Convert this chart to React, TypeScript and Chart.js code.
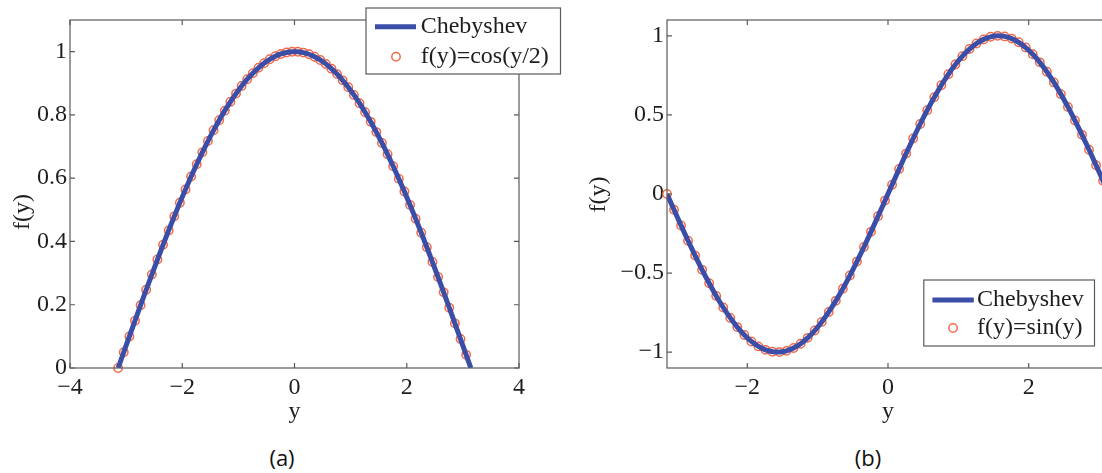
import React, { useEffect, useRef } from "react";
import { Chart, registerables } from "chart.js";

Chart.register(...registerables);

// ---- data ----
const sampleY = [
  -3.142, -3.042, -2.942, -2.842, -2.742, -2.642, -2.542, -2.442, -2.342, -2.242,
  -2.142, -2.042, -1.942, -1.842, -1.742, -1.642, -1.542, -1.442, -1.342, -1.242,
  -1.142, -1.042, -0.942, -0.842, -0.742, -0.642, -0.542, -0.442, -0.342, -0.242,
  -0.142, -0.042, 0.058, 0.158, 0.258, 0.358, 0.458, 0.558, 0.658, 0.758,
  0.858, 0.958, 1.058, 1.158, 1.258, 1.358, 1.458, 1.558, 1.658, 1.758,
  1.858, 1.958, 2.058, 2.158, 2.258, 2.358, 2.458, 2.558, 2.658, 2.758,
  2.858, 2.958, 3.058,
];

const cosValues = [
  0.0, 0.05, 0.0998, 0.1494, 0.1987, 0.2474, 0.2955, 0.3429, 0.3894, 0.435,
  0.4794, 0.5227, 0.5646, 0.6052, 0.6442, 0.6816, 0.7174, 0.7513, 0.7833, 0.8134,
  0.8415, 0.8674, 0.8912, 0.9128, 0.932, 0.949, 0.9636, 0.9757, 0.9854, 0.9927,
  0.9975, 0.9998, 0.9996, 0.9969, 0.9917, 0.984, 0.9738, 0.9613, 0.9463, 0.929,
  0.9093, 0.8874, 0.8632, 0.8369, 0.8085, 0.7781, 0.7457, 0.7115, 0.6755, 0.6378,
  0.5985, 0.5577, 0.5155, 0.472, 0.4274, 0.3817, 0.335, 0.2875, 0.2392, 0.1904,
  0.1411, 0.0915, 0.0416,
];

const sinValues = [
  0.0, -0.0998, -0.1987, -0.2955, -0.3894, -0.4794, -0.5646, -0.6442, -0.7174, -0.7833,
  -0.8415, -0.8912, -0.932, -0.9636, -0.9854, -0.9975, -0.9996, -0.9917, -0.9738, -0.9463,
  -0.9093, -0.8632, -0.8085, -0.7457, -0.6755, -0.5985, -0.5155, -0.4274, -0.335, -0.2392,
  -0.1411, -0.0416, 0.0584, 0.1577, 0.2555, 0.3508, 0.4425, 0.5298, 0.6119, 0.6878,
  0.7568, 0.8183, 0.8716, 0.9162, 0.9516, 0.9775, 0.9937, 0.9999, 0.9962, 0.9825,
  0.9589, 0.9258, 0.8835, 0.8323, 0.7728, 0.7055, 0.6313, 0.5507, 0.4646, 0.3739,
  0.2794, 0.1822, 0.0831,
];

// Chebyshev curve: same abscissae plus the end point at y = pi
const lineY = [...sampleY, 3.142];
const chebCos = [...cosValues, 0.0];
const chebSin = [...sinValues, 0.0];

const ticksAX = [-4, -2, 0, 2, 4];
const ticksAY = [0, 0.2, 0.4, 0.6, 0.8, 1];
const ticksBX = [-2, 0, 2];
const ticksBY = [-1, -0.5, 0, 0.5, 1];

const lineLabel = "Chebyshev";
const markLabelA = "f(y)=cos(y/2)";
const markLabelB = "f(y)=sin(y)";
const xTitle = "y";
const yTitle = "f(y)";

// ---- styles ----
const SERIF = "'Liberation Serif', 'Times New Roman', serif";
const BLUE = "#3a4ea8";
const ORANGE = "#f06a4a";
const FRAME = "#5a5a5a";
const TEXT = "#1e1e1e";
const FS = 24;

const fmt = (v: number) => String(v).replace("-", "\u2212");

function decorPlugin(spec: any) {
  return {
    id: "decor",
    afterDraw(chart: any) {
      const ctx = chart.ctx as CanvasRenderingContext2D;
      const { left, right, top, bottom } = chart.chartArea;
      const xs = chart.scales.x;
      const ys = chart.scales.y;
      ctx.save();
      // frame
      ctx.strokeStyle = FRAME;
      ctx.lineWidth = 1.2;
      ctx.strokeRect(left, top, right - left, bottom - top);
      // inward ticks
      const TL = 5;
      ctx.beginPath();
      spec.xTicks.forEach((v: number) => {
        const px = xs.getPixelForValue(v);
        ctx.moveTo(px, bottom);
        ctx.lineTo(px, bottom - TL);
        ctx.moveTo(px, top);
        ctx.lineTo(px, top + TL);
      });
      spec.yTicks.forEach((v: number) => {
        const py = ys.getPixelForValue(v);
        ctx.moveTo(left, py);
        ctx.lineTo(left + TL, py);
        ctx.moveTo(right, py);
        ctx.lineTo(right - TL, py);
      });
      ctx.stroke();
      // axis titles
      ctx.fillStyle = TEXT;
      ctx.font = `${FS}px ${SERIF}`;
      ctx.textAlign = "center";
      ctx.textBaseline = "alphabetic";
      ctx.fillText(xTitle, (left + right) / 2, spec.xTitleBase);
      ctx.save();
      ctx.translate(spec.yTitleBase, spec.yTitleCenter);
      ctx.rotate(-Math.PI / 2);
      ctx.fillText(yTitle, 0, 0);
      ctx.restore();
      // legend
      const L = spec.legend;
      ctx.fillStyle = "#ffffff";
      ctx.fillRect(L.x, L.y, L.w, L.h);
      ctx.strokeStyle = FRAME;
      ctx.lineWidth = 1.2;
      ctx.strokeRect(L.x, L.y, L.w, L.h);
      ctx.strokeStyle = BLUE;
      ctx.lineWidth = 5;
      ctx.beginPath();
      ctx.moveTo(L.lineX0, L.row1);
      ctx.lineTo(L.lineX1, L.row1);
      ctx.stroke();
      ctx.strokeStyle = ORANGE;
      ctx.lineWidth = 1.5;
      ctx.beginPath();
      ctx.arc(L.markX, L.row2, 4.2, 0, Math.PI * 2);
      ctx.stroke();
      ctx.fillStyle = TEXT;
      ctx.textAlign = "left";
      ctx.textBaseline = "middle";
      ctx.fillText(lineLabel, L.textX, L.row1);
      ctx.fillText(spec.markLabel, L.textX, L.row2);
      ctx.restore();
    },
  };
}

function buildConfig(spec: any): any {
  return {
    type: "scatter",
    data: {
      datasets: [
        {
          type: "line",
          label: lineLabel,
          data: lineY.map((x, i) => ({ x, y: spec.line[i] })),
          borderColor: BLUE,
          backgroundColor: BLUE,
          borderWidth: 5,
          pointRadius: 0,
          fill: false,
          cubicInterpolationMode: "monotone",
          order: 0,
        },
        {
          type: "scatter",
          label: spec.markLabel,
          data: sampleY.map((x, i) => ({ x, y: spec.marks[i] })),
          pointStyle: "circle",
          pointRadius: 4.2,
          borderColor: ORANGE,
          backgroundColor: "rgba(0,0,0,0)",
          borderWidth: 1.5,
          clip: false,
          order: 1,
        },
      ],
    },
    options: {
      responsive: false,
      maintainAspectRatio: false,
      animation: false,
      events: [],
      layout: { padding: { top: spec.padTop, right: spec.padRight, left: 0, bottom: 0 } },
      plugins: { legend: { display: false }, tooltip: { enabled: false }, title: { display: false } },
      scales: {
        x: {
          type: "linear",
          min: spec.xMin,
          max: spec.xMax,
          afterFit: (s: any) => {
            s.height = spec.xAxisH;
          },
          afterBuildTicks: (s: any) => {
            s.ticks = spec.xTicks.map((v: number) => ({ value: v }));
          },
          grid: { display: false, drawTicks: false },
          border: { display: false },
          ticks: {
            font: { family: SERIF, size: FS },
            color: TEXT,
            padding: 5,
            maxRotation: 0,
            autoSkip: false,
            callback: (v: number) => fmt(v),
          },
        },
        y: {
          type: "linear",
          min: spec.yMin,
          max: spec.yMax,
          afterFit: (s: any) => {
            s.width = spec.yAxisW;
          },
          afterBuildTicks: (s: any) => {
            s.ticks = spec.yTicks.map((v: number) => ({ value: v }));
          },
          grid: { display: false, drawTicks: false },
          border: { display: false },
          ticks: {
            font: { family: SERIF, size: FS },
            color: TEXT,
            padding: 3,
            autoSkip: false,
            callback: (v: number) => fmt(v),
          },
        },
      },
    },
    plugins: [decorPlugin(spec)],
  };
}

const specA = {
  xMin: -4,
  xMax: 4,
  yMin: 0,
  yMax: 1.1,
  xTicks: ticksAX,
  yTicks: ticksAY,
  line: chebCos,
  marks: cosValues,
  markLabel: markLabelA,
  yAxisW: 70,
  xAxisH: 72,
  padTop: 20,
  padRight: 45,
  xTitleBase: 418,
  yTitleBase: 29,
  yTitleCenter: 212,
  legend: { x: 366, y: 8, w: 194.5, h: 66, lineX0: 375, lineX1: 416, row1: 26.7, row2: 56.7, markX: 396, textX: 420.7 },
};

const specB = {
  xMin: -Math.PI,
  xMax: Math.PI,
  yMin: -1.1,
  yMax: 1.1,
  xTicks: ticksBX,
  yTicks: ticksBY,
  line: chebSin,
  marks: sinValues,
  markLabel: markLabelB,
  yAxisW: 107,
  xAxisH: 72,
  padTop: 20,
  padRight: 11,
  xTitleBase: 418,
  yTitleBase: 45,
  yTitleCenter: 194.5,
  legend: { x: 363.8, y: 280, w: 170.7, h: 66, lineX0: 372.4, lineX1: 413.8, row1: 300, row2: 328, markX: 393, textX: 417 },
};

function Panel({ left, width, height, spec }: { left: number; width: number; height: number; spec: any }) {
  const ref = useRef<HTMLCanvasElement>(null);
  useEffect(() => {
    const chart = new Chart(ref.current as HTMLCanvasElement, buildConfig(spec));
    return () => chart.destroy();
  }, []);
  return (
    <canvas
      ref={ref}
      width={width}
      height={height}
      style={{ position: "absolute", left, top: 0, width, height }}
    />
  );
}

const captionStyle: React.CSSProperties = {
  position: "absolute",
  top: 457,
  transform: "translate(-50%, -50%)",
  fontFamily: "'Open Sans', 'Noto Sans', sans-serif",
  fontSize: 22,
  lineHeight: 1,
  color: "#111",
  whiteSpace: "nowrap",
};

export default function App() {
  return (
    <div
      style={{
        position: "fixed",
        left: 0,
        top: 0,
        width: 1102,
        height: 473,
        overflow: "hidden",
        background: "#ffffff",
      }}
    >
      <Panel left={560} width={560} height={440} spec={specB} />
      <Panel left={0} width={564} height={440} spec={specA} />
      <div style={{ ...captionStyle, left: 282 }}>(a)</div>
      <div style={{ ...captionStyle, left: 868 }}>(b)</div>
    </div>
  );
}
